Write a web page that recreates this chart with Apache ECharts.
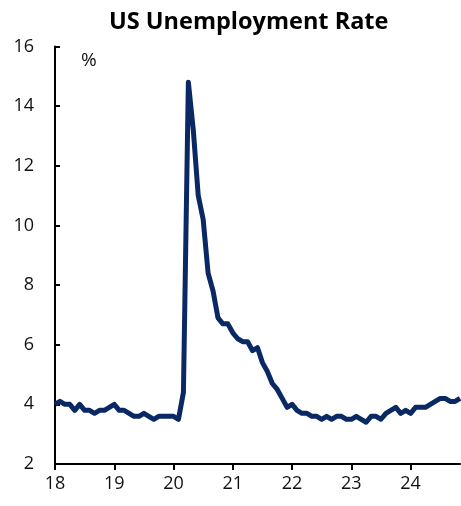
<!DOCTYPE html>
<html>
<head>
<meta charset="utf-8">
<script src="https://cdn.jsdelivr.net/npm/echarts@6/dist/echarts.min.js"></script>
<style>
  html, body { margin: 0; padding: 0; background: #fff; }
  #container1 { width: 461px; height: 506px; }
</style>
</head>
<body>
<div id="container1"></div>
<script>
// monthly unemployment rate, Jan 2018 .. Nov 2024
var startYear = 18;
var rate = [
  4.0, 4.1, 4.0, 4.0, 3.8, 4.0, 3.8, 3.8, 3.7, 3.8, 3.8, 3.9,
  4.0, 3.8, 3.8, 3.7, 3.6, 3.6, 3.7, 3.6, 3.5, 3.6, 3.6, 3.6,
  3.6, 3.5, 4.4, 14.8, 13.2, 11.0, 10.2, 8.4, 7.8, 6.9, 6.7, 6.7,
  6.4, 6.2, 6.1, 6.1, 5.8, 5.9, 5.4, 5.1, 4.7, 4.5, 4.2, 3.9,
  4.0, 3.8, 3.7, 3.7, 3.6, 3.6, 3.5, 3.6, 3.5, 3.6, 3.6, 3.5,
  3.5, 3.6, 3.5, 3.4, 3.6, 3.6, 3.5, 3.7, 3.8, 3.9, 3.7, 3.8,
  3.7, 3.9, 3.9, 3.9, 4.0, 4.1, 4.2, 4.2, 4.1, 4.1, 4.2
];
var yTicks = [2, 4, 6, 8, 10, 12, 14, 16];

var myChart1 = echarts.init(document.getElementById("container1"));
var points = rate.map(function(v, i) {
  return [startYear + i / 12, v];
});

var font = "'Open Sans', sans-serif";
option1 = {
  animation: false,
  title: {
    text: "US Unemployment Rate",
    left: 104,
    top: 5,
    textStyle: { fontFamily: font, fontSize: 23.5, fontWeight: "bold", color: "#000" }
  },
  grid: { left: 55, right: 1, top: 46.5, bottom: 42 },
  graphic: [
    {
      type: "text",
      left: 81,
      top: 51,
      style: { text: "%", fontFamily: font, fontSize: 19, fill: "#111" }
    }
  ],
  xAxis: {
    type: "value",
    min: startYear,
    max: startYear + (rate.length - 1) / 12,
    interval: 1,
    splitLine: { show: false },
    axisLine: { lineStyle: { color: "#000", width: 2 } },
    axisTick: { show: true, length: 6, lineStyle: { color: "#000", width: 2 } },
    axisLabel: {
      fontFamily: font, fontSize: 18, color: "#111", margin: 11,
      showMaxLabel: false,
      formatter: function(v) { return Math.round(v); }
    }
  },
  yAxis: {
    type: "value",
    min: yTicks[0],
    max: yTicks[yTicks.length - 1],
    interval: 2,
    splitLine: { show: false },
    axisLine: { show: true, lineStyle: { color: "#000", width: 2 } },
    axisTick: { show: true, inside: true, length: 5, lineStyle: { color: "#000", width: 2 } },
    axisLabel: { fontFamily: font, fontSize: 18, color: "#111", margin: 21 }
  },
  series: [
    {
      type: "line",
      data: points,
      showSymbol: false,
      lineStyle: { color: "#0a2864", width: 5, join: "round" }
    }
  ]
};
myChart1.setOption(option1, true);
</script>
</body>
</html>
